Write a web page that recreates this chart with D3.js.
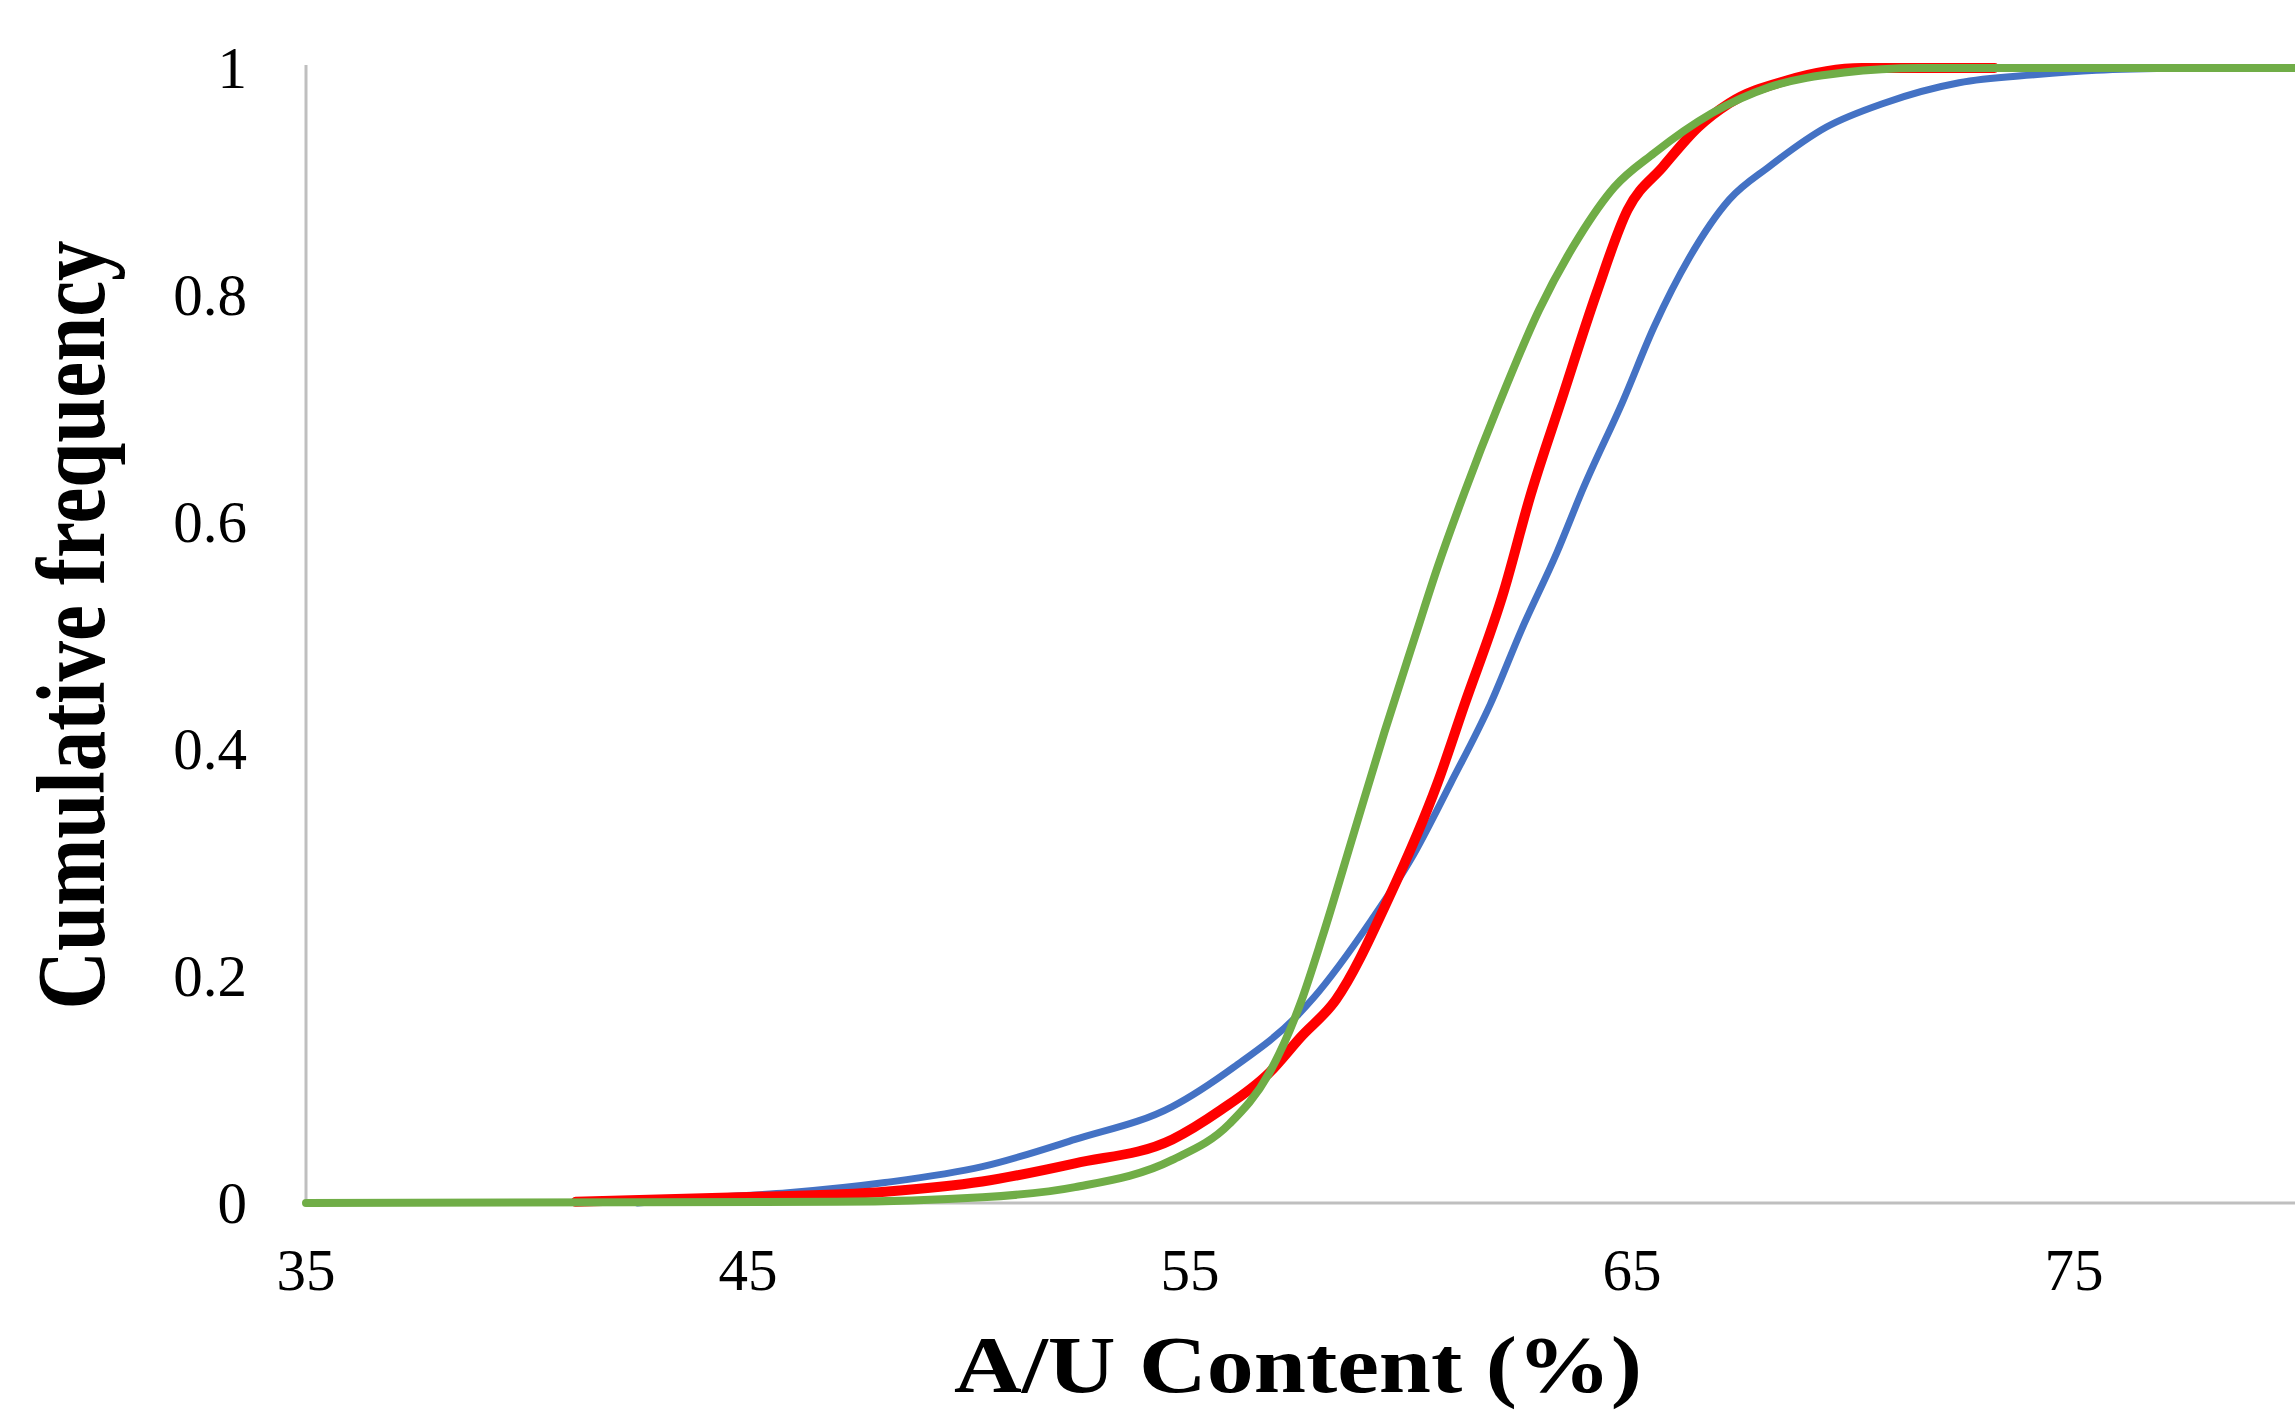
<!DOCTYPE html>
<html>
<head>
<meta charset="utf-8">
<script src="https://cdn.jsdelivr.net/npm/d3@7"></script>
<style>
  html, body { margin: 0; padding: 0; background: #fff; }
  svg { display: block; }
</style>
</head>
<body>
<svg id="chart" width="2295" height="1410"></svg>
<script>
// A/U content values (%) and cumulative frequency for each series
var blueX = [42.5, 43.8, 45.9, 48.1, 50.3, 52.4, 54.6, 56.0, 57.4, 57.8, 59.1, 60.0, 60.9, 61.8, 62.5, 63.3, 63.9, 64.8, 65.5, 66.3, 67.2, 68.1, 69.4, 70.7, 72.4, 74.1, 75.5, 77.5];
var blueY = [0, 0.004, 0.009, 0.018, 0.032, 0.056, 0.085, 0.12, 0.164, 0.181, 0.249, 0.303, 0.370, 0.440, 0.505, 0.573, 0.630, 0.707, 0.772, 0.833, 0.884, 0.913, 0.948, 0.969, 0.987, 0.994, 0.998, 1];

var redX = [41.1, 44.8, 48.1, 50.3, 52.4, 54.6, 55.7, 56.8, 57.5, 58.3, 59.5, 60.6, 61.2, 62.1, 62.7, 63.4, 64.2, 64.9, 65.7, 66.5, 67.2, 68.5, 70.2, 73.2];
var redY = [0.001, 0.005, 0.010, 0.019, 0.035, 0.056, 0.082, 0.115, 0.146, 0.179, 0.269, 0.370, 0.438, 0.539, 0.623, 0.707, 0.802, 0.875, 0.913, 0.948, 0.969, 0.989, 1, 1];

var greenX = [35, 47.0, 50.3, 52.4, 54.6, 55.9, 56.8, 57.5, 58.0, 58.7, 59.4, 60.1, 60.6, 61.2, 62.0, 62.9, 63.8, 64.6, 65.5, 66.8, 68.1, 69.8, 71.5, 80];
var greenY = [0, 0.001, 0.005, 0.014, 0.038, 0.070, 0.115, 0.176, 0.235, 0.325, 0.415, 0.500, 0.560, 0.625, 0.705, 0.787, 0.851, 0.895, 0.925, 0.960, 0.983, 0.996, 1, 1];

var xTicks = [35, 45, 55, 65, 75];
var yTicks = [0, 0.2, 0.4, 0.6, 0.8, 1];

var svg = d3.select("#chart");

// Scales
var x = d3.scaleLinear().domain([35, 80]).range([306, 2295]);
var y = d3.scaleLinear().domain([0, 1]).range([1203, 68]);

var axisColor = "#bfbfbf";
var serif = "'Liberation Serif', 'Times New Roman', serif";

// Axis lines
svg.append("line")
	.attr("x1", x(35)).attr("x2", x(35))
	.attr("y1", y(0)).attr("y2", y(1) - 3)
	.attr("stroke", axisColor).attr("stroke-width", 3);
svg.append("line")
	.attr("x1", x(35)).attr("x2", x(80))
	.attr("y1", y(0)).attr("y2", y(0))
	.attr("stroke", axisColor).attr("stroke-width", 3);

// Tick labels
svg.append("g").selectAll("text")
	.data(yTicks)
	.enter()
	.append("text")
	.attr("x", 247)
	.attr("y", d => y(d))
	.attr("dy", "0.34em")
	.attr("text-anchor", "end")
	.attr("font-family", serif)
	.attr("font-size", 59)
	.attr("fill", "#000")
	.text(d => d);

svg.append("g").selectAll("text")
	.data(xTicks)
	.enter()
	.append("text")
	.attr("x", d => x(d))
	.attr("y", 1290)
	.attr("text-anchor", "middle")
	.attr("font-family", serif)
	.attr("font-size", 59)
	.attr("fill", "#000")
	.text(d => d);

// Curves, drawn blue first so green sits on top
var series = [
	{ xs: blueX, ys: blueY, color: "#4472c4", width: 7 },
	{ xs: redX, ys: redY, color: "#ff0000", width: 10 },
	{ xs: greenX, ys: greenY, color: "#70ad47", width: 8 }
];

var line = d3.line()
	.x(d => x(d[0]))
	.y(d => y(d[1]))
	.curve(d3.curveMonotoneX);

series.forEach(function(s) {
	svg.append("path")
		.datum(d3.zip(s.xs, s.ys))
		.attr("d", line)
		.attr("fill", "none")
		.attr("stroke", s.color)
		.attr("stroke-width", s.width)
		.attr("stroke-linejoin", "round")
		.attr("stroke-linecap", "round");
});

// Axis titles
svg.append("text")
	.attr("x", 1298)
	.attr("y", 1392)
	.attr("text-anchor", "middle")
	.attr("font-family", serif)
	.attr("font-weight", "bold")
	.attr("font-size", 80)
	.attr("textLength", 688)
	.attr("lengthAdjust", "spacingAndGlyphs")
	.text("A/U Content (%)");

svg.append("text")
	.attr("transform", "translate(104,625) rotate(-90)")
	.attr("text-anchor", "middle")
	.attr("font-family", serif)
	.attr("font-weight", "bold")
	.attr("font-size", 98)
	.attr("textLength", 769)
	.attr("lengthAdjust", "spacingAndGlyphs")
	.text("Cumulative frequency");
</script>
</body>
</html>
